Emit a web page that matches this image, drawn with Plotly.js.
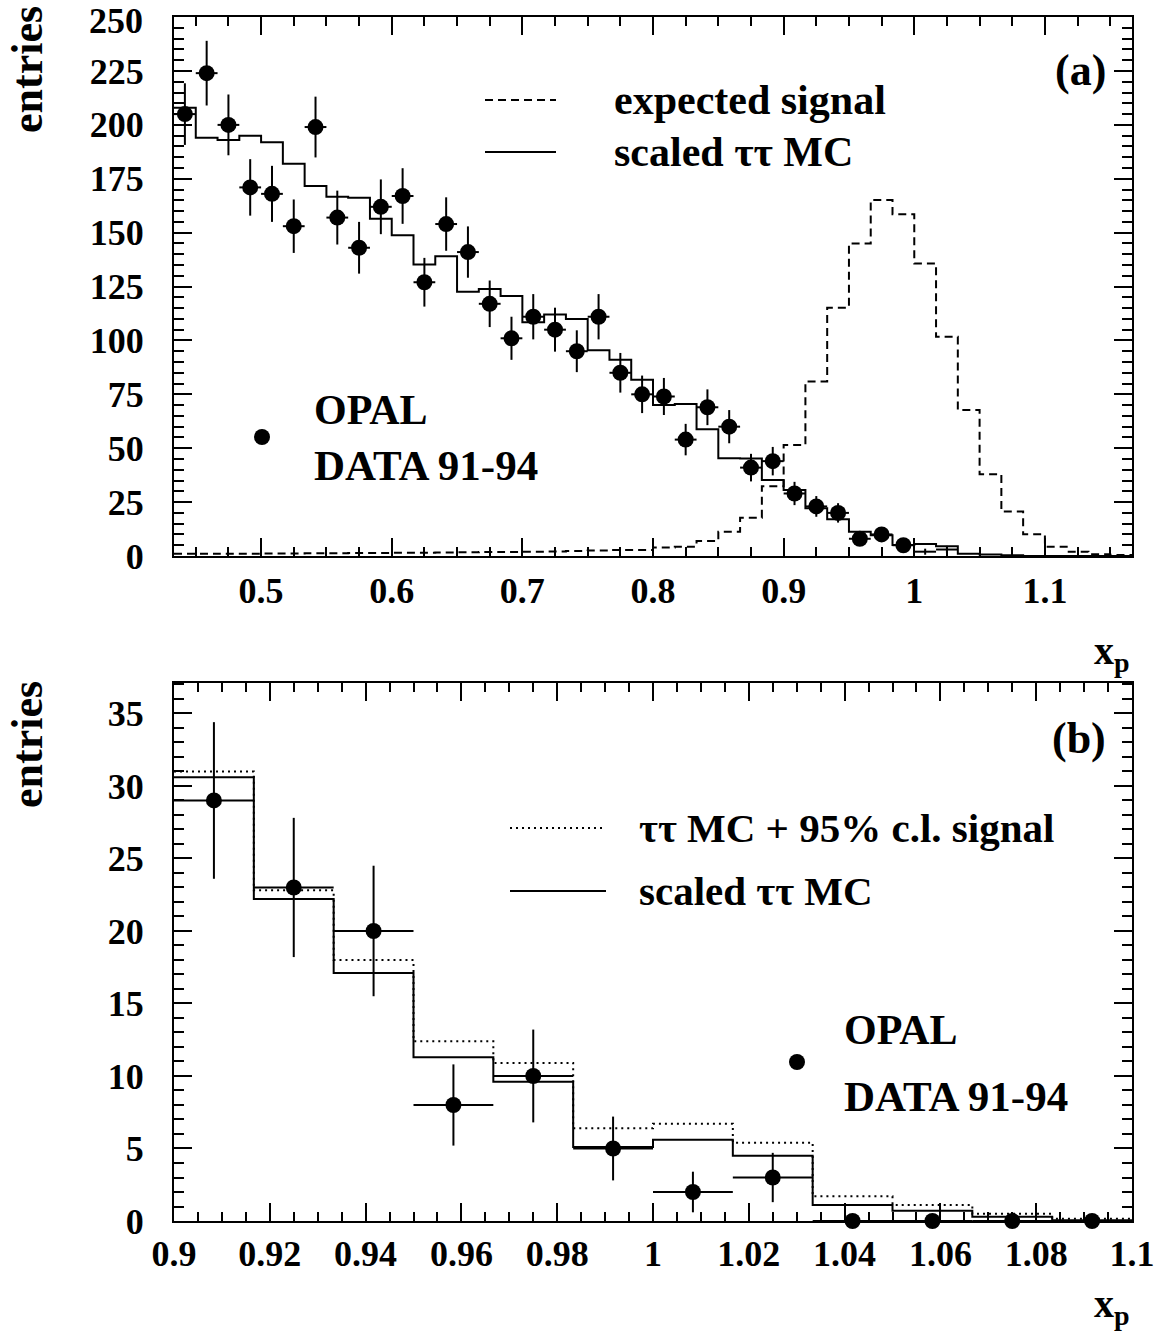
<!DOCTYPE html>
<html>
<head>
<meta charset="utf-8">
<script src="https://cdn.plot.ly/plotly-3.0.1.min.js"></script>
<style>html,body{margin:0;padding:0;background:#fff}</style>
</head>
<body>
<div id="chart" style="width:1162px;height:1335px"></div>
<script>
// ---------- binning (x_p), bin width 1/60 ----------
const topLow = 26/60, topNBins = 44, binWidth = 1/60;
const botLow = 0.9, botNBins = 12;

// ---------- panel (a) ----------
const dataA = [205, 224, 200, 171, 168, 153, 199, 157, 143, 162, 167, 127, 154, 141, 117, 101, 111, 105, 95, 111,
               85, 75, 74, 54, 69, 60, 41, 44, 29, 23, 20, 8, 10, 5];
const dataAErr = [14.3, 15.0, 14.1, 13.1, 13.0, 12.4, 14.1, 12.5, 12.0, 12.7, 12.9, 11.3, 12.4, 11.9, 10.8, 10.0, 10.5, 10.2, 9.7, 10.5,
                  9.2, 8.7, 8.6, 7.3, 8.3, 7.7, 6.4, 6.6, 5.4, 4.8, 4.5, 2.8, 3.2, 2.2];
const dataALowBins = [34, 35];        // bins drawn as error crosses only
const dataALow = [2, 3];
const dataALowErr = [1.4, 1.7];
const mcA = [208, 194, 193, 195, 192, 182, 171.6, 166.7, 166.2, 156.5, 148.8, 135.2, 139.1, 122.6, 123.9, 120.6, 108.4, 112, 109.9, 95.5,
             91.1, 81.8, 70.0, 70.5, 58.8, 45.3, 45.2, 35.3, 30.6, 22.2, 17.1, 11.3, 9.6, 5.1, 5.6, 4.5, 1.1, 0.7, 0.3, 0.05,
             0, 0, 0, 0];
const signalA = [1.0, 1.0, 1.1, 1.1, 1.2, 1.2, 1.3, 1.3, 1.4, 1.4, 1.5, 1.5, 1.6, 1.7, 1.8, 1.9, 2.0, 2.1, 2.3, 2.5,
                 2.8, 2.8, 3.9, 4.3, 7.0, 11.3, 17.8, 32.4, 51.5, 81.0, 115.2, 145.0, 165.1, 158.6, 135.7, 101.7, 67.7, 37.9, 20.6, 10.1,
                 4.3, 2.0, 0.8, 0.5];
const yTicksA = [0, 25, 50, 75, 100, 125, 150, 175, 200, 225, 250];

// ---------- panel (b) ----------
const dataB = [29, 23, 20, 8, 10, 5, 2, 3, 0, 0, 0, 0];
const dataBErr = [5.4, 4.8, 4.5, 2.8, 3.2, 2.2, 1.4, 1.7, 0, 0, 0, 0];
const mcB = [30.6, 22.2, 17.1, 11.3, 9.6, 5.1, 5.6, 4.5, 1.1, 0.7, 0.3, 0.05];
const mcSigB = [31.0, 22.8, 18.0, 12.4, 10.9, 6.4, 6.7, 5.4, 1.7, 1.1, 0.5, 0.15];

// ---------- labels ----------
const legendA = ["expected signal", "scaled \u03c4\u03c4 MC"];
const legendB = ["\u03c4\u03c4 MC + 95% c.l. signal", "scaled \u03c4\u03c4 MC"];
const expLabel = ["OPAL", "DATA 91-94"];
const yTitle = "entries";
const xTitle = "x<sub>p</sub>";

// ---------- helpers ----------
const edges = (lo, n) => Array.from({length: n + 1}, (_, i) => lo + i * binWidth);
const centers = (lo, n) => Array.from({length: n}, (_, i) => lo + (i + 0.5) * binWidth);
const stepY = v => v.concat([v[v.length - 1]]);

const W = 1162, H = 1335;
const px = x => x / W, py = y => 1 - y / H;
const FONT = "Liberation Serif, Times New Roman, serif";

const edgesA = edges(topLow, topNBins), centA = centers(topLow, topNBins);
const edgesB = edges(botLow, botNBins), centB = centers(botLow, botNBins);

const traces = [
  {x: edgesA, y: stepY(signalA), xaxis: 'x', yaxis: 'y', mode: 'lines', line: {shape: 'hv', color: '#000', width: 2, dash: '8px,5px'}},
  {x: edgesA, y: stepY(mcA), xaxis: 'x', yaxis: 'y', mode: 'lines', line: {shape: 'hv', color: '#000', width: 2}},
  {x: centA.slice(0, dataA.length), y: dataA, xaxis: 'x', yaxis: 'y', mode: 'markers', cliponaxis: false,
   marker: {color: '#000', size: 16},
   error_y: {type: 'data', array: dataAErr, color: '#000', thickness: 2, width: 0},
   error_x: {type: 'constant', value: binWidth / 2, color: '#000', thickness: 2, width: 0}},
  {x: dataALowBins.map(i => centA[i]), y: dataALow, xaxis: 'x', yaxis: 'y', mode: 'markers',
   marker: {color: '#000', size: 1},
   error_y: {type: 'data', array: dataALowErr, color: '#000', thickness: 2, width: 0},
   error_x: {type: 'constant', value: binWidth / 2, color: '#000', thickness: 2, width: 0}},

  {x: edgesB, y: stepY(mcSigB), xaxis: 'x2', yaxis: 'y2', mode: 'lines', line: {shape: 'hv', color: '#000', width: 2, dash: '2px,4px'}},
  {x: edgesB, y: stepY(mcB), xaxis: 'x2', yaxis: 'y2', mode: 'lines', line: {shape: 'hv', color: '#000', width: 2}},
  {x: centB, y: dataB, xaxis: 'x2', yaxis: 'y2', mode: 'markers', cliponaxis: false,
   marker: {color: '#000', size: 16},
   error_y: {type: 'data', array: dataBErr, color: '#000', thickness: 2, width: 0},
   error_x: {type: 'constant', value: binWidth / 2, color: '#000', thickness: 2, width: 0}}
];

const tickFont = {family: FONT, size: 36, color: '#000', weight: 'bold'};
function axis(extra) {
  return Object.assign({
    showline: true, linecolor: '#000', linewidth: 2, mirror: 'allticks',
    ticks: 'inside', ticklen: 18, tickwidth: 2, tickcolor: '#000',
    showgrid: false, zeroline: false, tickfont: tickFont, fixedrange: true,
    ticklabeloverflow: 'allow'
  }, extra);
}
const xDom = [px(174), px(1132)];
const topTickIdx = yTicksA.length - 1;   // top label placed as annotation so it stays inside the page

const layout = {
  width: W, height: H,
  margin: {l: 0, r: 0, t: 0, b: 0},
  paper_bgcolor: '#fff', plot_bgcolor: '#fff',
  showlegend: false,
  xaxis: axis({domain: xDom, range: [topLow, topLow + topNBins * binWidth], anchor: 'y', dtick: 0.1, tick0: 0,
               minor: {dtick: 0.025, ticks: 'inside', ticklen: 9, tickwidth: 2, tickcolor: '#000'}, ticklabelstandoff: 2}),
  yaxis: axis({domain: [py(556), py(17)], range: [0, 250.05], anchor: 'x', tickmode: 'array', tickvals: yTicksA,
               ticktext: yTicksA.map((v, i) => i === topTickIdx ? '' : String(v)),
               minor: {dtick: 5, tick0: 0, ticks: 'inside', ticklen: 10, tickwidth: 2, tickcolor: '#000'}, ticklabelstandoff: 21}),
  xaxis2: axis({domain: xDom, range: [botLow, botLow + botNBins * binWidth], anchor: 'y2', dtick: 0.02, tick0: 0,
               minor: {dtick: 0.005, ticks: 'inside', ticklen: 9, tickwidth: 2, tickcolor: '#000'}, ticklabelstandoff: 0}),
  yaxis2: axis({domain: [py(1221), py(683)], range: [0, 37.1], anchor: 'x2', dtick: 5,
               minor: {dtick: 1, ticks: 'inside', ticklen: 10, tickwidth: 2, tickcolor: '#000'}, ticklabelstandoff: 21}),
  shapes: [
    {type: 'line', xref: 'paper', yref: 'paper', x0: px(485), x1: px(556), y0: py(100), y1: py(100), line: {color: '#000', width: 2, dash: '8px,5px'}},
    {type: 'line', xref: 'paper', yref: 'paper', x0: px(485), x1: px(556), y0: py(152), y1: py(152), line: {color: '#000', width: 2}},
    {type: 'line', xref: 'paper', yref: 'paper', x0: px(510), x1: px(606), y0: py(828), y1: py(828), line: {color: '#000', width: 2, dash: '2px,4px'}},
    {type: 'line', xref: 'paper', yref: 'paper', x0: px(510), x1: px(606), y0: py(891), y1: py(891), line: {color: '#000', width: 2}},
    {type: 'circle', xref: 'paper', yref: 'paper', x0: px(254), x1: px(270), y0: py(445), y1: py(429), fillcolor: '#000', line: {width: 0}},
    {type: 'circle', xref: 'paper', yref: 'paper', x0: px(789), x1: px(805), y0: py(1070), y1: py(1054), fillcolor: '#000', line: {width: 0}}
  ],
  annotations: []
};

function ann(text, x, y, opts) {
  layout.annotations.push(Object.assign({
    text: text, xref: 'paper', yref: 'paper', x: px(x), y: py(y), showarrow: false,
    xanchor: 'left', yanchor: 'middle', font: {family: FONT, size: 42, color: '#000', weight: 'bold'}
  }, opts || {}));
}
ann(String(yTicksA[topTickIdx]), 144, 0, {xanchor: 'right', yanchor: 'top', borderpad: 0, font: tickFont});
ann(legendA[0], 612, 100);
ann(legendA[1], 612, 152);
ann(legendB[0], 637, 828, {font: {family: FONT, size: 41, color: '#000', weight: 'bold'}});
ann(legendB[1], 637, 891, {font: {family: FONT, size: 41, color: '#000', weight: 'bold'}});
ann(expLabel[0], 312, 410);
ann(expLabel[1], 312, 466, {font: {family: FONT, size: 43, color: '#000', weight: 'bold'}});
ann(expLabel[0], 842, 1030);
ann(expLabel[1], 842, 1096, {font: {family: FONT, size: 43, color: '#000', weight: 'bold'}});
ann("(a)", 1108, 70, {xanchor: 'right', font: {family: FONT, size: 44, color: '#000', weight: 'bold'}});
ann("(b)", 1108, 738, {xanchor: 'right', font: {family: FONT, size: 44, color: '#000', weight: 'bold'}});
ann(yTitle, 27, 70, {xanchor: 'center', textangle: -90, font: {family: FONT, size: 44, color: '#000', weight: 'bold'}});
ann(yTitle, 27, 745, {xanchor: 'center', textangle: -90, font: {family: FONT, size: 44, color: '#000', weight: 'bold'}});
ann(xTitle, 1112, 653, {xanchor: 'center', font: {family: FONT, size: 40, color: '#000', weight: 'bold'}});
ann(xTitle, 1112, 1306, {xanchor: 'center', font: {family: FONT, size: 40, color: '#000', weight: 'bold'}});

Plotly.newPlot('chart', traces, layout, {displayModeBar: false, staticPlot: true});
</script>
</body>
</html>
